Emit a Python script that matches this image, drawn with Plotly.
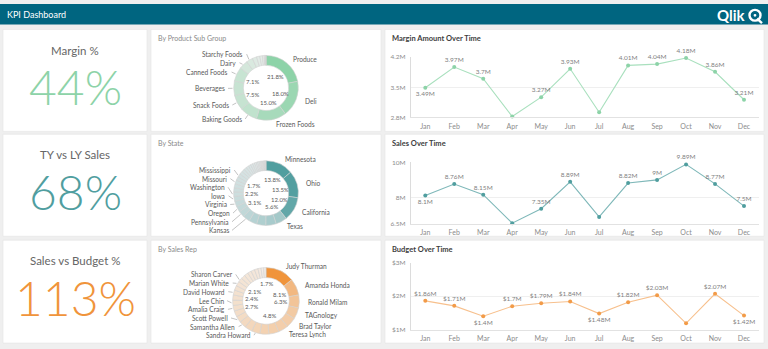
import math
import plotly.graph_objects as go

W, H = 768, 349
FONT = "Lato"

# ---------------- data ----------------
months = ["Jan", "Feb", "Mar", "Apr", "May", "Jun", "Jul", "Aug", "Sep", "Oct", "Nov", "Dec"]
margin_amt = [3.49, 3.97, 3.70, 2.82, 3.27, 3.93, 2.92, 4.01, 4.04, 4.18, 3.86, 3.21]
margin_labelled = [1, 1, 1, 0, 1, 1, 0, 1, 1, 1, 1, 1]
sales_amt = [8.10, 8.76, 8.15, 6.52, 7.35, 8.89, 6.88, 8.82, 9.00, 9.89, 8.77, 7.50]
sales_labelled = [1, 1, 1, 0, 1, 1, 0, 1, 1, 1, 1, 1]
budget_amt = [1.86, 1.71, 1.40, 1.70, 1.79, 1.84, 1.48, 1.82, 2.03, 1.19, 2.07, 1.42]
budget_labelled = [1, 1, 1, 1, 1, 1, 1, 1, 1, 0, 1, 1]

margin_ticks = [2.8, 3.5, 4.2]
sales_ticks = [6.5, 8, 10]
budget_ticks = [1, 2, 3]

kpi_titles = ["Margin %", "TY vs LY Sales", "Sales vs Budget %"]
kpi_values = [44, 68, 113]

product_groups = ["Produce", "Deli", "Frozen Foods", "Baking Goods", "Snack Foods", "Beverages",
                  "Canned Foods", "Dairy", "Starchy Foods", "Breakfast Foods", "Meat", "Seafood",
                  "Eggs", "Alcoholic Beverages", "Baked Goods", "Canned Products"]
product_share = [21.8, 18.0, 15.0, 8.8, 7.5, 7.3, 7.1, 4.4, 3.2, 2.2, 1.6, 1.3, 0.9, 0.5, 0.4, 0.0001]
product_outer = ["Produce", "Deli", "Frozen Foods", "Baking Goods", "Snack Foods", "Beverages",
                 "Canned Foods", "Dairy", "Starchy Foods"]
product_inner = ["Produce", "Deli", "Frozen Foods", "Snack Foods", "Canned Foods"]

states = ["Minnesota", "Ohio", "California", "Texas", "New York", "Florida", "Illinois", "Kansas",
          "Pennsylvania", "Oregon", "Virginia", "Iowa", "Washington", "Georgia", "Michigan",
          "Missouri", "Arizona", "Mississippi", "Colorado", "Indiana", "Tennessee", "Nevada",
          "Utah", "Alabama", "Kentucky", "Louisiana", "Nebraska", "Idaho", "Maine", "Montana",
          "Oklahoma", "Arkansas", "Wisconsin", "Vermont", "Delaware", "Alaska", "Hawaii"]
state_share = [13.8, 13.5, 12.0, 5.6, 5.2, 4.6, 4.0, 3.5, 3.1, 2.9, 2.7, 2.5, 2.2, 2.1, 2.0, 1.9,
               1.8, 1.7, 1.6, 1.5, 1.4, 1.3, 1.2, 1.1, 1.0, 0.9, 0.8, 0.7, 0.6, 0.5, 0.5, 0.4,
               0.4, 0.3, 0.3, 0.2, 0.2]
state_outer = ["Minnesota", "Ohio", "California", "Texas", "Kansas", "Pennsylvania", "Oregon",
               "Virginia", "Iowa", "Washington", "Missouri", "Mississippi"]
state_inner = ["Minnesota", "Ohio", "California", "Texas", "Pennsylvania", "Washington", "Mississippi"]

reps = ["Judy Thurman", "Amanda Honda", "Ronald Milam", "TAGnology", "Brad Taylor", "Teresa Lynch",
        "Tom Lindwall", "Helen Brolin", "Sandra Howard", "John Greg", "Samantha Allen",
        "Scott Powell", "Molly McKay", "Amalia Craig", "Lee Chin", "Carl Lynch", "David Howard",
        "Amelia Fields", "Marian White", "Sharon Carver", "Rob Carsson", "Frank Jones",
        "Ken Roberts", "Lisa Evans", "Mark Davis", "Joe Smith", "Ann Lee", "Pat Moore"]
rep_share = [14.0, 8.1, 6.3, 5.5, 5.0, 4.9, 4.8, 4.4, 4.0, 3.7, 3.4, 3.1, 2.9, 2.7, 2.6, 2.5,
             2.4, 2.3, 2.2, 2.1, 2.0, 1.9, 1.8, 1.8, 1.7, 1.5, 1.3, 1.1]
rep_outer = ["Judy Thurman", "Amanda Honda", "Ronald Milam", "TAGnology", "Brad Taylor",
             "Teresa Lynch", "Sandra Howard", "Samantha Allen", "Scott Powell", "Amalia Craig",
             "Lee Chin", "David Howard", "Marian White", "Sharon Carver"]
rep_inner = ["Amanda Honda", "Ronald Milam", "Tom Lindwall", "Amalia Craig", "David Howard",
             "Sharon Carver", "Mark Davis"]

# ---------------- styles ----------------
GREEN, TEAL, ORANGE = "#8dd3a8", "#509e9f", "#f0943b"


def px(x):
    return x / W


def py(y):
    return 1 - y / H


def hex2rgb(c):
    c = c.lstrip("#")
    return tuple(int(c[i:i + 2], 16) for i in (0, 2, 4))


def blend(c1, c2, t):
    a, b = hex2rgb(c1), hex2rgb(c2)
    return "rgb(%d,%d,%d)" % tuple(round(a[i] + (b[i] - a[i]) * t) for i in range(3))


fig = go.Figure()
shapes = []
annots = []

# header
shapes.append(dict(type="rect", xref="paper", yref="paper", x0=0, x1=1, y0=py(21), y1=1,
                   fillcolor="#006580", line=dict(width=0), layer="below"))
annots.append(dict(xref="paper", yref="paper", x=px(5), y=py(11), text="KPI Dashboard",
                   showarrow=False, xanchor="left", yanchor="middle",
                   font=dict(family=FONT, size=9, color="white")))
annots.append(dict(xref="paper", yref="paper", x=px(748), y=py(11.5), text="<b>Qlik</b>",
                   showarrow=False, xanchor="right", yanchor="middle",
                   font=dict(family=FONT, size=15, color="white")))
shapes.append(dict(type="circle", xref="paper", yref="paper", x0=px(749.5), x1=px(760.5),
                   y0=py(17), y1=py(6), line=dict(color="white", width=2.4)))
shapes.append(dict(type="circle", xref="paper", yref="paper", x0=px(753.6), x1=px(756.4),
                   y0=py(13), y1=py(10.2), fillcolor="white", line=dict(width=0)))
shapes.append(dict(type="line", xref="paper", yref="paper", x0=px(757), x1=px(762),
                   y0=py(15), y1=py(19.5), line=dict(color="white", width=2.4)))

# panels
cols = [(3, 147), (151, 381), (385, 764)]
rows = [(26, 130), (133, 237), (241, 346)]
for (r0, r1) in rows:
    for (c0, c1) in cols:
        shapes.append(dict(type="rect", xref="paper", yref="paper", x0=px(c0), x1=px(c1),
                           y0=py(r1), y1=py(r0), fillcolor="white",
                           line=dict(color="#e4e4e4", width=0.6), layer="below"))

# KPI tiles
kpi_colors = [GREEN, TEAL, ORANGE]
for i, (r0, r1) in enumerate(rows):
    cx = (cols[0][0] + cols[0][1]) / 2
    annots.append(dict(xref="paper", yref="paper", x=px(cx), y=py(r0 + 21), text=kpi_titles[i],
                       showarrow=False, xanchor="center", yanchor="middle",
                       font=dict(family=FONT, size=11.5, color="#666666")))
    annots.append(dict(xref="paper", yref="paper", x=px(cx), y=py(r0 + 58.5),
                       text="%d%%" % kpi_values[i], showarrow=False, xanchor="center",
                       yanchor="middle",
                       font=dict(family=FONT, size=48, color=kpi_colors[i], weight=300)))

# donut subtitles
subtitles = ["By Product Sub Group", "By State", "By Sales Rep"]
for i, (r0, r1) in enumerate(rows):
    annots.append(dict(xref="paper", yref="paper", x=px(156), y=py(r0 + 9), text=subtitles[i],
                       showarrow=False, xanchor="left", yanchor="middle",
                       font=dict(family=FONT, size=7, color="#8a8a8a")))


def relax(ys, lo, hi, gap):
    ys = list(ys)
    for _ in range(400):
        moved = False
        for i in range(1, len(ys)):
            d = gap - (ys[i] - ys[i - 1])
            if d > 0.01:
                ys[i - 1] -= d / 2
                ys[i] += d / 2
                moved = True
        for i in range(len(ys)):
            ys[i] = min(max(ys[i], lo), hi)
        if not moved:
            break
    for i in range(len(ys) - 2, -1, -1):
        if ys[i + 1] - ys[i] < gap:
            ys[i] = ys[i + 1] - gap
    return ys


def donut(names, vals, outer, inner, cx, cy, R, base, light, lo, hi):
    total = sum(vals)
    vmax, vmin = max(vals), min(vals)
    colors = [blend(light, base, ((v - vmin) / (vmax - vmin)) ** 0.85) for v in vals]
    fig.add_trace(go.Pie(labels=names, values=vals, hole=0.7, sort=False, direction="clockwise",
                         rotation=0, textinfo="none", showlegend=False,
                         marker=dict(colors=colors, line=dict(color="#d2d2d2", width=0.6)),
                         domain=dict(x=[px(cx - R), px(cx + R)], y=[py(cy + R), py(cy - R)]),
                         hoverinfo="label+percent"))
    cum = 0
    mids = {}
    for n, v in zip(names, vals):
        mids[n] = (cum + v / 2) / total * 2 * math.pi
        cum += v
    # inner percentage labels, spread vertically on each side of the hole
    ri = 15
    for side in (1, -1):
        items = [n for n in names if n in inner and (math.sin(mids[n]) >= 0) == (side == 1)]
        items.sort(key=lambda n: cy - ri * math.cos(mids[n]))
        y0s = [cy - ri * math.cos(mids[n]) for n in items]
        ys = relax(y0s, cy - 19, cy + 19, 7.6)
        for n, y in zip(items, ys):
            dy = y - cy
            x = cx + side * math.sqrt(max(ri * ri - dy * dy, 0))
            v = vals[names.index(n)]
            annots.append(dict(xref="paper", yref="paper", x=px(x), y=py(y),
                               text="%.1f%%" % (v / total * 100),
                               showarrow=False, xanchor="center", yanchor="middle",
                               font=dict(family=FONT, size=6, color="#595959")))
    # outer labels
    ro = R + 5
    for side in (1, -1):
        items = [n for n in names if n in outer and (math.sin(mids[n]) >= 0) == (side == 1)]
        items.sort(key=lambda n: cy - ro * math.cos(mids[n]))
        y0s = [cy - ro * math.cos(mids[n]) for n in items]
        ys = relax(y0s, lo, hi, 8.8)
        for n, y0, y in zip(items, y0s, ys):
            a = mids[n]
            x = cx + ro * math.sin(a)
            displaced = abs(y - y0) > 4
            if side == -1 and displaced:
                x = min(x, cx - R - 1)
            annots.append(dict(xref="paper", yref="paper", x=px(x + side * 1.2), y=py(y), text=n,
                               showarrow=False, xanchor="left" if side == 1 else "right",
                               yanchor="middle", font=dict(family=FONT, size=6.6, color="#595959")))
            if side == -1 or displaced:
                ax, ay = cx + (R + 0.5) * math.sin(a), cy - (R + 0.5) * math.cos(a)
                shapes.append(dict(type="line", xref="paper", yref="paper", x0=px(ax), y0=py(ay),
                                   x1=px(x), y1=py(y), line=dict(color="#9a9a9a", width=0.6)))


donut(product_groups, product_share, product_outer, product_inner, 266, 85.5, 33, GREEN,
      "#eceeed", 40, 125)
donut(states, state_share, state_outer, state_inner, 266, 193, 33, TEAL, "#eaeded", 147, 231)
donut(reps, rep_share, rep_outer, rep_inner, 266, 303, 34, ORANGE, "#f4eee8", 256, 338)

# line charts
line_specs = [
    ("Margin Amount Over Time", margin_amt, margin_labelled, margin_ticks, "", (54.3, 115.7),
     "#a9e0be", "#8dd3a8", ["bottom center"] + ["top center"] * 11),
    ("Sales Over Time", sales_amt, sales_labelled, sales_ticks, "", (161.7, 224.0),
     "#7fb8b9", "#509e9f", ["bottom center"] + ["top center"] * 11),
    ("Budget Over Time", budget_amt, budget_labelled, budget_ticks, "$", (264.0, 332.3),
     "#f7c08d", "#f29b48",
     ["top center", "top center", "bottom center", "top center", "top center", "top center",
      "bottom center", "top center", "top center", "top center", "top center", "bottom center"]),
]
layout_axes = {}
for i, (title, vals, lab, ticks, pre, (ytop, ybot), lc, mc, tpos) in enumerate(line_specs):
    k = "" if i == 0 else str(i + 1)
    texts = [("%s%gM" % (pre, v)) if s else "" for v, s in zip(vals, lab)]
    fig.add_trace(go.Scatter(x=months, y=vals, mode="lines+markers+text", text=texts,
                             textposition=tpos, cliponaxis=False,
                             textfont=dict(family=FONT, size=6.5, color="#7f7f7f"),
                             line=dict(color=lc, width=1.1), marker=dict(color=mc, size=4),
                             xaxis="x" + k, yaxis="y" + k, showlegend=False,
                             hovertemplate="%{x}: %{y}<extra></extra>"))
    layout_axes["xaxis" + k] = dict(domain=[px(410.8), px(758.5)], anchor="y" + k,
                                    range=[-0.5, 11.5], showgrid=False, showline=True,
                                    linecolor="#e2e2e2", linewidth=1, ticks="outside", ticklen=2,
                                    tickcolor="rgba(0,0,0,0)", fixedrange=True,
                                    tickfont=dict(family=FONT, size=7, color="#8c8c8c"))
    lo_t, hi_t = ticks[0], ticks[-1]
    layout_axes["yaxis" + k] = dict(domain=[py(ybot), py(ytop)], anchor="x" + k,
                                    range=[lo_t, hi_t], tickvals=ticks,
                                    ticktext=["%s%gM" % (pre, t) for t in ticks],
                                    showgrid=True, gridcolor="#efefef", gridwidth=1,
                                    zeroline=False, showline=True, linecolor="#dcdcdc",
                                    linewidth=1, ticks="outside", ticklen=3,
                                    tickcolor="rgba(0,0,0,0)", fixedrange=True,
                                    tickfont=dict(family=FONT, size=6.5, color="#8c8c8c"))
    annots.append(dict(xref="paper", yref="paper", x=px(390), y=py(rows[i][0] + 9.5),
                       text="<b>%s</b>" % title, showarrow=False, xanchor="left",
                       yanchor="middle", font=dict(family=FONT, size=7.5, color="#404040")))

fig.update_layout(width=W, height=H, margin=dict(l=0, r=0, t=0, b=0), autosize=False,
                  paper_bgcolor="#efefef", plot_bgcolor="rgba(0,0,0,0)",
                  font=dict(family=FONT), shapes=shapes, annotations=annots, **layout_axes)

fig.write_html("out.html", config={"displayModeBar": False})
